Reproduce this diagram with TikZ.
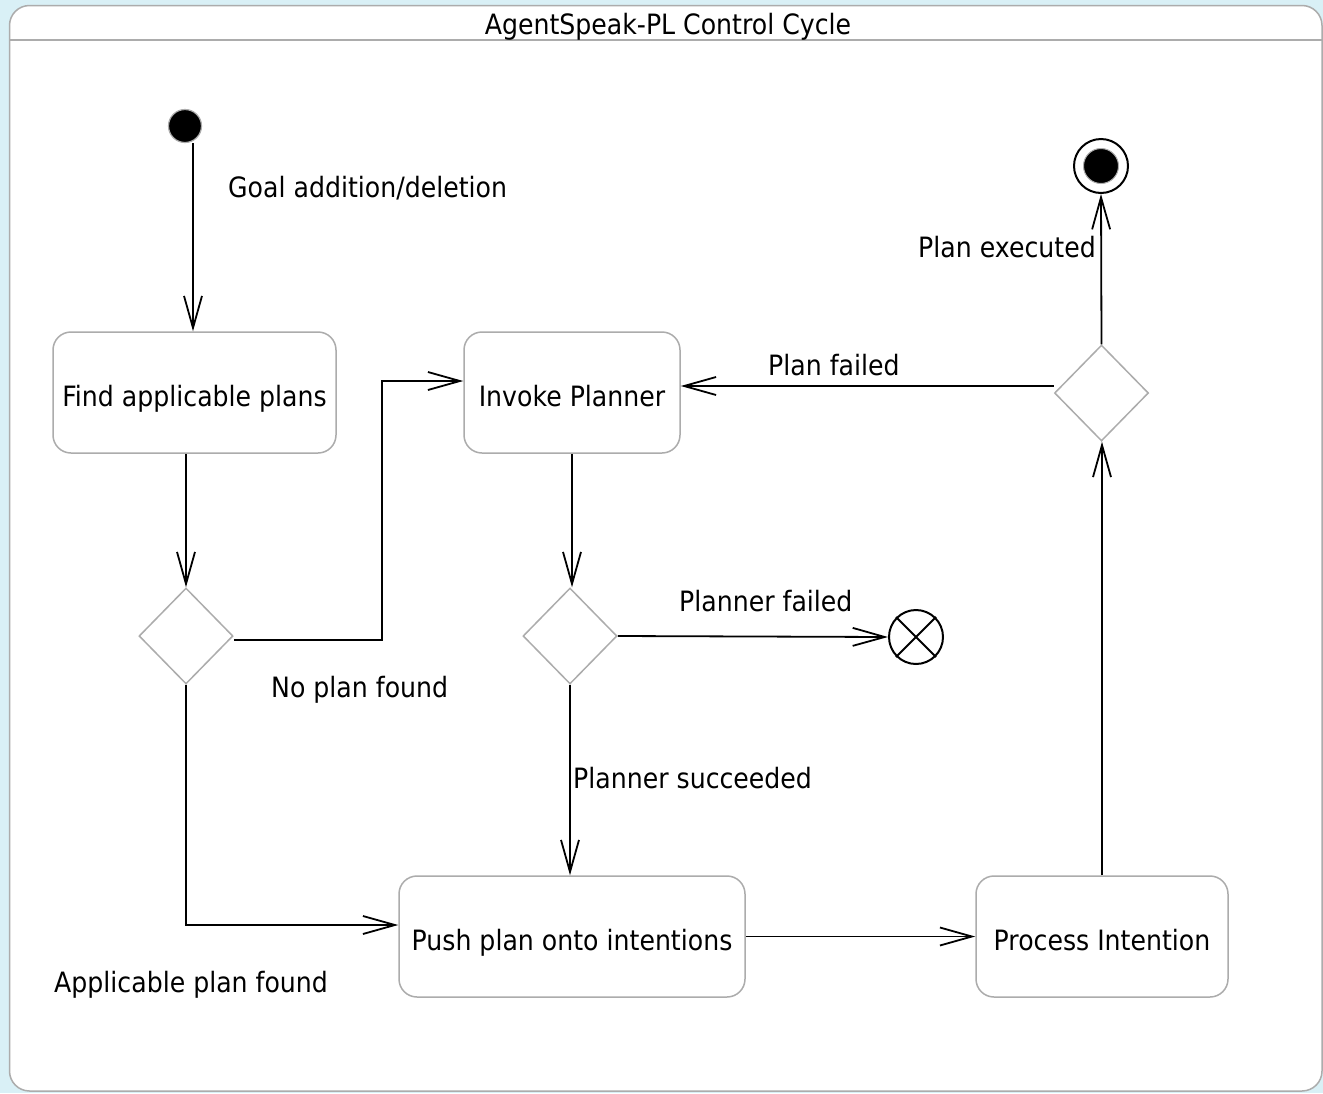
\documentclass[tikz,border=0pt]{standalone}
\usepackage{fontspec}
\setmainfont{DejaVu Sans}[FakeStretch=0.9]
\usetikzlibrary{arrows.meta,shapes.geometric,shapes.misc}
\definecolor{bgblue}{RGB}{217,240,246}
\definecolor{framegray}{RGB}{172,172,172}
% state text sits with its baseline a little below the box centre
\newcommand{\boxtext}[1]{\raisebox{-14pt}[0pt][0pt]{#1}}
\begin{document}
\begin{tikzpicture}[x=1pt,y=-1pt,
  font=\fontsize{28}{33}\selectfont,
  state/.style={draw=framegray,line width=1.5pt,rounded corners=18pt,fill=white,inner sep=0pt},
  choice/.style={draw=framegray,line width=1.5pt,diamond,minimum width=94pt,minimum height=96pt,inner sep=0pt,fill=white},
  flow/.style={line width=1.8pt,-{Straight Barb[length=32pt,width=18pt,line width=1.8pt]}},
  lbl/.style={inner sep=0pt,anchor=west}]
% background and frame
\fill[bgblue] (0,0) rectangle (1323,1093);
\useasboundingbox (0,0) rectangle (1323,1093);
\begin{scope}
\clip (0,0) rectangle (1323,1093);
\draw[framegray,fill=white,line width=1.5pt,rounded corners=20pt] (9.5,5.5) rectangle (1322,1091);
\end{scope}
\draw[framegray,line width=1.5pt] (9.5,40) -- (1323,40);
\node[inner sep=0pt] (title) at (668,27) {AgentSpeak-PL Control Cycle};

% states
\node[state,minimum width=283pt,minimum height=121pt] (find) at (194.5,392.5) {\boxtext{Find applicable plans}};
\node[state,minimum width=216pt,minimum height=121pt] (invoke) at (572,392.5) {\boxtext{Invoke Planner}};
\node[state,minimum width=346pt,minimum height=121pt] (push) at (572,936.5) {\boxtext{Push plan onto intentions}};
\node[state,minimum width=252pt,minimum height=121pt] (process) at (1102,936.5) {\boxtext{Process Intention}};

% decisions
\node[choice] (d1) at (186,636) {};
\node[choice] (d2) at (570,636) {};
\node[choice] (d3) at (1101.5,393) {};

% initial, final and flow-final nodes
\node[circle,fill=black,draw=framegray,line width=1.2pt,minimum size=33pt,inner sep=0pt] (init) at (185,126) {};
\node[circle,draw=black,line width=2pt,minimum size=54pt,inner sep=0pt,fill=white] (final) at (1101,166) {};
\node[circle,fill=black,draw=framegray,line width=1pt,minimum size=35pt,inner sep=0pt] at (final.center) {};
\node[circle,cross out,draw=black,line width=2pt,minimum size=38pt,inner sep=0pt] (ffx) at (916,637) {};
\node[circle,draw=black,line width=2pt,minimum size=54pt,inner sep=0pt] (ff) at (916,637) {};

% transitions
\coordinate (j1) at (382,381);
\draw[flow] ([xshift=8pt]init.south) -- ([xshift=8pt]init.south |- find.north);
\draw[flow] (find.south -| d1.north) -- (d1.north);
\draw[flow] ([yshift=-4pt]d1.east) -| (j1) -- (j1 -| invoke.west);
\draw[flow] (d1.south) |- ([yshift=11.5pt]push.west);
\draw[flow] (invoke.south) -- (invoke.south |- d2.north);
\draw[flow] (d2.east) -- (ff.west);
\draw[flow] (d2.south) -- (d2.south |- push.north);
\draw[flow] (push.east) -- (process.west);
\draw[flow] (process.north) -- (process.north |- d3.south);
\draw[flow] ([yshift=7pt]d3.west) -- ([yshift=7pt]d3.west -| invoke.east);
\draw[flow] (d3.north) -- (final.south);

% guard labels
\node[lbl] (l1) at (228,188) {Goal addition/deletion};
\node[lbl] (l2) at (271,690) {No plan found};
\node[lbl] (l3) at (54,985) {Applicable plan found};
\node[lbl] (l4) at (679,601) {Planner failed};
\node[lbl] (l5) at (573,778) {Planner succeeded};
\node[lbl] (l6) at (768,365) {Plan failed};
\node[lbl] (l7) at (918,247) {Plan executed};
\end{tikzpicture}
\end{document}
